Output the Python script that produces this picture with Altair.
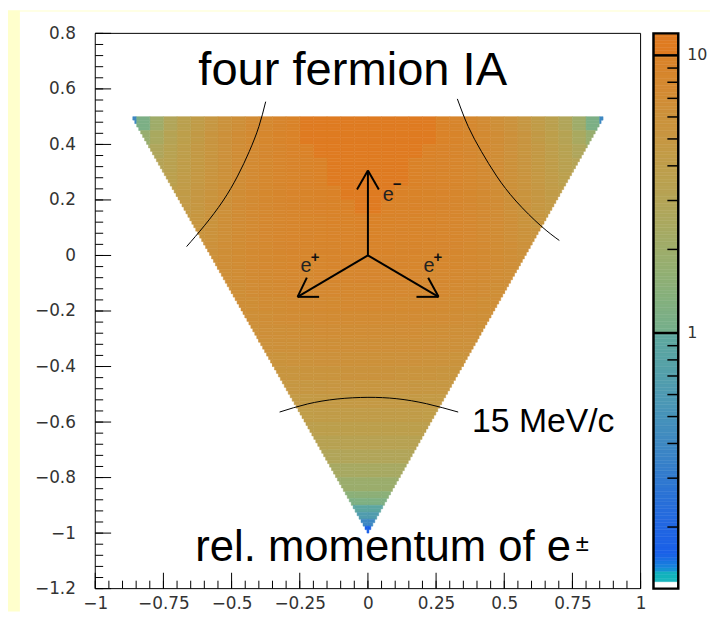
import altair as alt
import numpy as np
import pandas as pd

# ---------------- values ----------------
# kinematic triangle: top edge at y=0.5 (half width 0.866), apex at (0,-1)
tri_top_y = 0.5
tri_top_half = 0.866
tri_apex_y = -1.0

cell_w = 0.05  # x bin width; each row lists bins from x=0 outward (plot is mirror symmetric)
row_edges = [0.5, 0.45, 0.4, 0.35, 0.3, 0.25, 0.2, 0.15, 0.1, 0.05, 0.0, -0.05, -0.1,
             -0.15, -0.2, -0.25, -0.3, -0.35, -0.4, -0.45, -0.5, -0.55, -0.6, -0.65,
             -0.7, -0.75, -0.8, -0.85, -0.875, -0.9, -0.925, -0.95, -0.975, -1.0]
row_values = [
    [11.6, 11.5, 11.2, 10.8, 10.3, 9.7, 8.9, 8.1, 7.3, 6.5, 5.8, 5.0, 4.3, 3.6, 2.85, 2.05, 1.15, 0.4],
    [11.50, 11.39, 11.17, 10.78, 10.34, 9.76, 9.12, 8.32, 7.52, 6.74, 5.96, 5.27, 4.54, 3.87, 3.18, 2.43, 1.80],
    [11.35, 11.25, 11.05, 10.73, 9.88, 9.45, 8.92, 8.20, 7.51, 6.73, 6.01, 5.34, 4.64, 3.99, 3.35, 2.73, 2.20],
    [11.15, 11.07, 10.88, 9.95, 9.64, 9.26, 8.74, 8.18, 7.44, 6.76, 6.05, 5.38, 4.76, 4.09, 3.48, 3.09],
    [10.96, 10.86, 10.71, 9.84, 9.50, 9.08, 8.69, 8.16, 7.52, 6.82, 6.13, 5.45, 4.85, 4.22, 3.71, 3.52],
    [10.65, 10.57, 9.95, 9.65, 9.34, 9.01, 8.60, 8.15, 7.59, 6.89, 6.20, 5.54, 4.93, 4.38, 4.01],
    [10.15, 9.95, 9.71, 9.47, 9.20, 8.88, 8.49, 8.03, 7.52, 6.95, 6.28, 5.62, 5.02, 4.56],
    [9.95, 9.59, 9.45, 9.24, 9.03, 8.76, 8.40, 7.98, 7.52, 7.02, 6.37, 5.76, 5.15, 4.76],
    [9.60, 9.39, 9.23, 9.10, 8.90, 8.66, 8.36, 7.98, 7.55, 7.08, 6.49, 5.92, 5.48],
    [9.24, 9.13, 8.99, 8.88, 8.70, 8.49, 8.21, 7.86, 7.49, 7.06, 6.57, 6.00, 5.74],
    [8.90, 8.87, 8.82, 8.68, 8.54, 8.33, 8.10, 7.82, 7.45, 7.06, 6.61, 6.31],
    [8.50, 8.48, 8.41, 8.33, 8.18, 8.00, 7.80, 7.55, 7.24, 6.88, 6.56],
    [8.10, 8.06, 8.01, 7.93, 7.80, 7.66, 7.47, 7.26, 7.00, 6.68, 6.51],
    [7.70, 7.66, 7.62, 7.54, 7.45, 7.31, 7.15, 6.96, 6.72, 6.54],
    [7.30, 7.28, 7.23, 7.16, 7.08, 6.97, 6.83, 6.66, 6.47, 6.39],
    [6.90, 6.87, 6.83, 6.77, 6.70, 6.61, 6.48, 6.33, 6.21],
    [6.50, 6.47, 6.44, 6.39, 6.33, 6.24, 6.14, 6.01, 5.98],
    [6.05, 6.03, 6.00, 5.96, 5.89, 5.83, 5.74, 5.67],
    [5.60, 5.59, 5.57, 5.53, 5.47, 5.41, 5.35],
    [5.15, 5.14, 5.13, 5.09, 5.04, 4.99, 4.98],
    [4.70, 4.69, 4.67, 4.65, 4.61, 4.58],
    [4.25, 4.25, 4.23, 4.21, 4.18, 4.15],
    [3.80, 3.79, 3.78, 3.77, 3.75],
    [3.33, 3.32, 3.31, 3.30, 3.29],
    [2.85, 2.85, 2.84, 2.83],
    [2.38, 2.37, 2.36],
    [1.90, 1.90, 1.89],
    [1.50, 1.47],
    [1.20, 1.18],
    [0.92, 0.90],
    [0.65],
    [0.40],
    [0.16],
]

# colour palette
pal_stops = [0.12, 0.127, 0.129, 0.136, 0.142, 0.16, 0.2, 0.27, 0.38, 0.55, 0.75, 0.995,
             1.005, 1.4, 2.0, 3.0, 4.0, 5.5, 7.5, 9.95, 10.05, 12.0]
pal_colors = ["#FFFFFF", "#FFFFFF", "#12B4BC", "#12B4BC", "#1688DA", "#1A60E8", "#2166E2",
              "#2C74D4", "#3C86C4", "#4A96B6", "#55A1A8", "#5FA89E", "#74AF8C", "#88B07A",
              "#9EAD6A", "#B4A456", "#BE9E4A", "#C9943E", "#D38A32", "#DA8228", "#DF7B21", "#DF7B21"]
cb_min, cb_max = 0.12, 12.0
cb_minor = [0.2, 0.3, 0.4, 0.5, 0.6, 0.7, 0.8, 0.9, 2, 3, 4, 5, 6, 7, 8, 9]
cb_major = [1, 10]
cb_labels = ["1", "10"]

x_major = [-1, -0.75, -0.5, -0.25, 0, 0.25, 0.5, 0.75, 1]
y_major = [-1.2, -1, -0.8, -0.6, -0.4, -0.2, 0, 0.2, 0.4, 0.6, 0.8]
x_minor = [round(-1 + 0.05 * k, 3) for k in range(41)]
y_minor = [round(-1.2 + 0.04 * k, 3) for k in range(51)]

# momentum arrows (e-, e+, e+): shafts then arrow-head strokes
arrow_x1 = [0, 0, 0, 0, 0, -0.258, -0.258, 0.259, 0.259]
arrow_y1 = [0, 0, 0, 0.306, 0.306, -0.149, -0.149, -0.149, -0.149]
arrow_x2 = [0, -0.258, 0.259, -0.04, 0.04, -0.179, -0.224, 0.178, 0.221]
arrow_y2 = [0.306, -0.149, -0.149, 0.238, 0.238, -0.149, -0.080, -0.149, -0.080]

left_arc_x = [-0.375, -0.400, -0.435, -0.478, -0.532, -0.600, -0.665]
left_arc_y = [0.554, 0.464, 0.375, 0.286, 0.196, 0.107, 0.032]
right_arc_x = [0.328, 0.368, 0.416, 0.472, 0.543, 0.634, 0.702]
right_arc_y = [0.564, 0.464, 0.375, 0.286, 0.196, 0.107, 0.054]
bottom_arc_x = [-0.324, -0.222, -0.113, 0.0, 0.106, 0.215, 0.331]
bottom_arc_y = [-0.564, -0.535, -0.517, -0.511, -0.516, -0.534, -0.564]

# ---------------- tables ----------------
sub_h = 0.0125
cells = []
for i, vals in enumerate(row_values):
    yt, yb = row_edges[i], row_edges[i + 1]
    nsub = max(1, int(round((yt - yb) / sub_h)))
    h = (yt - yb) / nsub
    for k in range(nsub):
        y1 = yt - k * h
        y0 = y1 - h
        ym = 0.5 * (y0 + y1)
        hw = tri_top_half * (ym - tri_apex_y) / (tri_top_y - tri_apex_y)
        for j, v in enumerate(vals):
            x0 = j * cell_w
            x1 = min(x0 + cell_w, hw)
            if x1 <= x0 + 1e-6:
                break
            cells.append({"x": round(x0, 4), "x2": round(x1, 4), "y": round(y0, 4), "y2": round(y1, 4), "v": v})
            cells.append({"x": round(-x1, 4), "x2": round(-x0, 4), "y": round(y0, 4), "y2": round(y1, 4), "v": v})
heat_df = pd.DataFrame(cells)

arc_rows = []
for name, xs_, ys_ in [("l", left_arc_x, left_arc_y), ("r", right_arc_x, right_arc_y), ("b", bottom_arc_x, bottom_arc_y)]:
    for k, (a, b) in enumerate(zip(xs_, ys_)):
        arc_rows.append({"arc": name, "k": k, "x": a, "y": b})
arc_df = pd.DataFrame(arc_rows)

arrow_df = pd.DataFrame({"x1": arrow_x1, "y1": arrow_y1, "x2": arrow_x2, "y2": arrow_y2})

edges = np.geomspace(cb_min, cb_max, 161)
cb_df = pd.DataFrame({"lo": edges[:-1], "hi": edges[1:], "mid": np.sqrt(edges[:-1] * edges[1:])})

# ---------------- chart ----------------
W, H = 550, 560
PL, PT, PR, PB = 88, 23, 70, 23
xs = alt.Scale(domain=[-1, 1], nice=False, zero=False)
ys = alt.Scale(domain=[-1.2, 0.8], nice=False, zero=False)
cscale = alt.Scale(type="log", domain=pal_stops, range=pal_colors, interpolate="rgb", clamp=True)
lab = dict(labelFont="DejaVu Sans", labelFontSize=17, labelColor="#333333", ticks=False, tickSize=0,
           domain=False, grid=False, title=None, labelFlush=False, labelOverlap=False,
           format=".2~f", zindex=2)
xaxis = alt.Axis(values=x_major, labelPadding=7, **lab)
yaxis = alt.Axis(values=y_major, labelPadding=20, **lab)


def X(f):
    return alt.X(f, type="quantitative", scale=xs, axis=xaxis)


def Y(f):
    return alt.Y(f, type="quantitative", scale=ys, axis=yaxis)


one = pd.DataFrame({"d": [0]})
# light-yellow page border (left strip and top strip) around the white canvas
yellow_left = alt.Chart(one).mark_rect(color="#FFFFCC").encode(
    x=alt.value(-PL), x2=alt.value(-76), y=alt.value(-PT), y2=alt.value(H + PB))
yellow_top = alt.Chart(one).mark_rect(color="#FFFFCC").encode(
    x=alt.value(-PL), x2=alt.value(W + PR), y=alt.value(-PT), y2=alt.value(-22))

heat = alt.Chart(heat_df).mark_rect(strokeWidth=0.5).encode(
    x=X("x"), x2="x2", y=Y("y"), y2="y2",
    color=alt.Color("v:Q", scale=cscale, legend=None),
    stroke=alt.Stroke("v:Q", scale=cscale, legend=None))

arcs = alt.Chart(arc_df).mark_line(color="black", strokeWidth=1, interpolate="natural").encode(
    x=X("x"), y=Y("y"), detail="arc:N", order="k:Q")

arrows = alt.Chart(arrow_df).mark_rule(color="black", strokeWidth=2).encode(
    x=X("x1"), y=Y("y1"), x2="x2", y2="y2")


def text_layer(xv, yv, tv, size, align="left", baseline="alphabetic", weight="normal", color="black", font="Liberation Sans"):
    df = pd.DataFrame({"x": xv, "y": yv, "t": tv})
    return alt.Chart(df).mark_text(font=font, fontSize=size, align=align, baseline=baseline,
                                   fontWeight=weight, color=color).encode(x=X("x"), y=Y("y"), text="t:N")


t_title = text_layer([-0.622], [0.614], ["four fermion IA"], 47.5)
t_mom = text_layer([-0.633], [-1.1], ["rel. momentum of e"], 44)
t_pm = text_layer([0.762], [-1.064], ["±"], 24)
t_mev = text_layer([0.382], [-0.636], ["15 MeV/c"], 34)
t_e = text_layer([0.0545, -0.247, 0.204], [0.196, -0.061, -0.061], ["e", "e", "e"], 20, color="#222222")
t_sup = text_layer([0.107, -0.194, 0.256], [0.257, -0.004, -0.004], ["−", "+", "+"], 15,
                   align="center", baseline="middle", weight="bold", color="#111111")

ytick_maj = alt.Chart(pd.DataFrame({"y": y_major})).mark_rule(color="black").encode(
    y=Y("y"), x=alt.value(0), x2=alt.value(16))
ytick_min = alt.Chart(pd.DataFrame({"y": y_minor})).mark_rule(color="black").encode(
    y=Y("y"), x=alt.value(0), x2=alt.value(8))
xtick_maj = alt.Chart(pd.DataFrame({"x": x_major})).mark_rule(color="black").encode(
    x=X("x"), y=alt.value(H), y2=alt.value(H - 16))
xtick_min = alt.Chart(pd.DataFrame({"x": x_minor})).mark_rule(color="black").encode(
    x=X("x"), y=alt.value(H), y2=alt.value(H - 8))
frame = alt.Chart(one).mark_rect(fillOpacity=0, stroke="black", strokeWidth=1).encode(
    x=alt.value(0), x2=alt.value(W), y=alt.value(0), y2=alt.value(H))

main = alt.layer(yellow_left, yellow_top, heat, arcs, arrows, t_title, t_mom, t_pm, t_mev, t_e, t_sup,
                 ytick_min, ytick_maj, xtick_min, xtick_maj, frame)

cys = alt.Scale(type="log", domain=[cb_min, cb_max], nice=False)


def CY(f):
    return alt.Y(f, type="quantitative", scale=cys, axis=None)


CBX0, CBX1 = 563, 588
bands = alt.Chart(cb_df).mark_rect(strokeWidth=0.5).encode(
    y=CY("lo"), y2="hi", x=alt.value(CBX0), x2=alt.value(CBX1),
    color=alt.Color("mid:Q", scale=cscale, legend=None),
    stroke=alt.Stroke("mid:Q", scale=cscale, legend=None))
cb_ticks = alt.Chart(pd.DataFrame({"t": cb_minor})).mark_rule(color="black", strokeWidth=1.5).encode(
    y=CY("t"), x=alt.value(CBX1 - 11), x2=alt.value(CBX1))
cb_div = alt.Chart(pd.DataFrame({"t": cb_major})).mark_rule(color="black", strokeWidth=2.5).encode(
    y=CY("t"), x=alt.value(CBX0), x2=alt.value(CBX1))
cb_border = alt.Chart(one).mark_rect(fillOpacity=0, stroke="black", strokeWidth=2.5).encode(
    x=alt.value(CBX0), x2=alt.value(CBX1), y=alt.value(0), y2=alt.value(H))
cb_text = alt.Chart(pd.DataFrame({"t": cb_major, "lab": cb_labels})).mark_text(
    align="left", baseline="middle", font="DejaVu Sans", fontSize=16, color="#333333").encode(
    y=CY("t"), x=alt.value(CBX1 + 9), text="lab:N")

cbar = alt.layer(bands, cb_ticks, cb_div, cb_border, cb_text)

chart = alt.layer(main, cbar).resolve_scale(y="independent").properties(
    width=W, height=H,
    autosize=alt.AutoSizeParams(type="none"),
    padding={"left": PL, "top": PT, "right": PR, "bottom": PB},
    background="white",
).configure_view(strokeWidth=0)

chart.save("out.html", embed_options={"renderer": "svg", "actions": False})
